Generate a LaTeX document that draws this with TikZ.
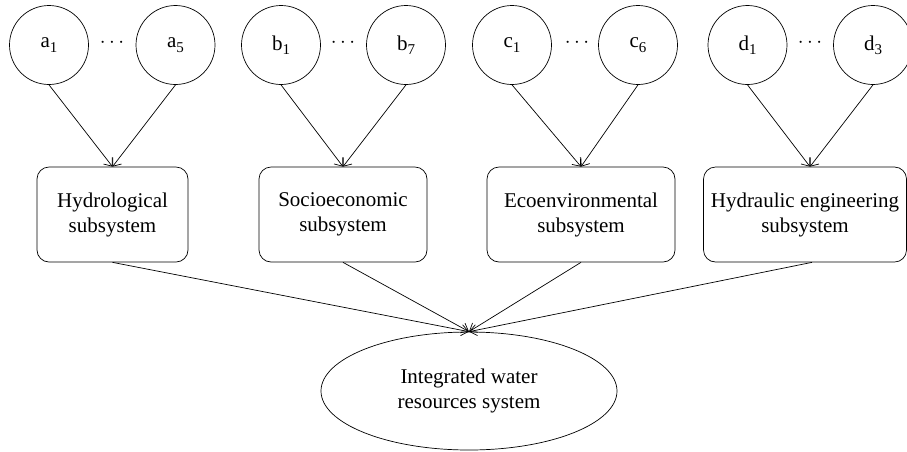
\documentclass[tikz,border=0pt]{standalone}
\usepackage{fontspec}
\setmainfont{Liberation Serif}
\usetikzlibrary{arrows.meta,shapes.geometric}
\newcommand\sbx[1]{\raisebox{-0.45ex}{\fontsize{15}{15}\selectfont #1}}
\begin{document}
\begin{tikzpicture}[x=1pt,y=-1pt,
  lab/.style={font=\fontsize{21}{25}\selectfont},
  var/.style={circle,draw,minimum size=79pt,inner sep=0pt,lab},
  dotsn/.style={lab,inner sep=0pt},
  sub/.style={draw,rounded corners=12pt,minimum height=95pt,align=center,lab,inner sep=0pt},
  goal/.style={ellipse,draw,minimum width=296pt,minimum height=118pt,inner sep=0pt,align=center,lab},
  arr/.style={-{Straight Barb[length=7pt,width=11pt]},line width=0.7pt},
  every node/.style={line width=0.7pt}
]
\useasboundingbox (0,0) rectangle (907,451);
% input variables
\node[var] (a1) at (49,45) {a\sbx{1}};
\node[var] (a5) at (175.5,45) {a\sbx{5}};
\node[var] (b1) at (281,45) {b\sbx{1}};
\node[var] (b7) at (406,45) {b\sbx{7}};
\node[var] (c1) at (512,45) {c\sbx{1}};
\node[var] (c6) at (638,45) {c\sbx{6}};
\node[var] (d1) at (747.5,45) {d\sbx{1}};
\node[var] (d3) at (873,45) {d\sbx{3}};
\node[dotsn] (da) at (112,43) {$\cdots$};
\node[dotsn] (db) at (343,43) {$\cdots$};
\node[dotsn] (dc) at (577,43) {$\cdots$};
\node[dotsn] (dd) at (810,43) {$\cdots$};
% subsystems
\node[sub,minimum width=151pt] (H) at (112.5,214.5) {Hydrological\\subsystem};
\node[sub,minimum width=168pt] (S) at (343,214.5) {Socioeconomic\\subsystem};
\node[sub,minimum width=188pt] (E) at (581,214.5) {Ecoenvironmental\\subsystem};
\node[sub,minimum width=203pt] (W) at (805,214.5) {Hydraulic engineering\\subsystem};
\coordinate (Wt) at ([xshift=5pt]W.north);
\coordinate (Wb) at ([xshift=7pt]W.south);
% whole system
\node[goal] (G) at (469,391) {Integrated water\\resources system};
% connectors
\draw[arr] (a1.south) -- (H.north);
\draw[arr] (a5.south) -- (H.north);
\draw[arr] (b1.south) -- (S.north);
\draw[arr] (b7.south) -- (S.north);
\draw[arr] (c1.south) -- (E.north);
\draw[arr] (c6.south) -- (E.north);
\draw[arr] (d1.south) -- (Wt);
\draw[arr] (d3.south) -- (Wt);
\draw[arr] (H.south) -- (G.north);
\draw[arr] (S.south) -- (G.north);
\draw[arr] (E.south) -- (G.north);
\draw[arr] (Wb) -- (G.north);
\end{tikzpicture}
\end{document}
